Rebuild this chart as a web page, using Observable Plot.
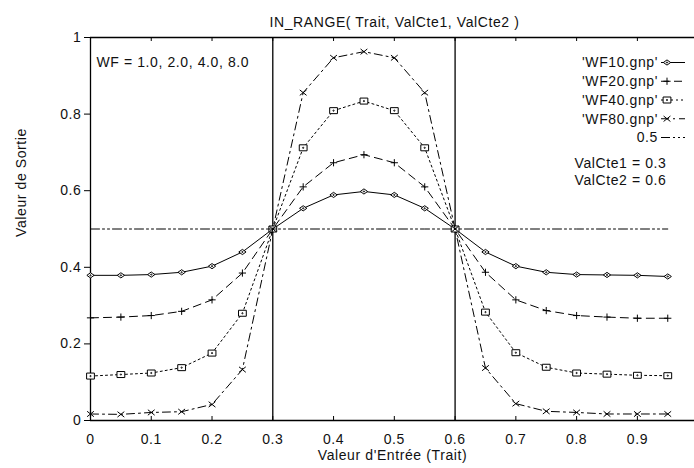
<!DOCTYPE html>
<html><head><meta charset="utf-8">
<script src="https://cdn.jsdelivr.net/npm/d3@7"></script>
<script src="https://cdn.jsdelivr.net/npm/@observablehq/plot@0.6"></script>
<style>
body{margin:0;background:#fff;}
</style></head><body><div id="chart"></div>
<script>
// ---- data ----
const xs   = [0,0.05,0.1,0.15,0.2,0.25,0.3,0.35,0.4,0.45,0.5,0.55,0.6,0.65,0.7,0.75,0.8,0.85,0.9,0.95];
const wf10 = [0.379,0.379,0.381,0.387,0.403,0.440,0.500,0.554,0.589,0.598,0.589,0.554,0.500,0.440,0.403,0.387,0.381,0.380,0.379,0.376];
const wf20 = [0.268,0.270,0.274,0.285,0.315,0.385,0.500,0.610,0.673,0.694,0.673,0.610,0.500,0.387,0.315,0.287,0.274,0.270,0.267,0.267];
const wf40 = [0.116,0.120,0.124,0.138,0.176,0.280,0.500,0.712,0.809,0.834,0.809,0.712,0.500,0.283,0.177,0.139,0.124,0.121,0.118,0.117];
const wf80 = [0.017,0.016,0.021,0.023,0.042,0.133,0.500,0.856,0.947,0.963,0.947,0.856,0.500,0.137,0.044,0.024,0.021,0.017,0.017,0.017];
const half = [0.5,0.5,0.5,0.5,0.5,0.5,0.5,0.5,0.5,0.5,0.5,0.5,0.5,0.5,0.5,0.5,0.5,0.5,0.5,0.5];
const seriesNames = ["'WF10.gnp'","'WF20.gnp'","'WF40.gnp'","'WF80.gnp'","0.5"];
const valCte = [0.3, 0.6];
const valCteLabels = ["ValCte1 = 0.3","ValCte2 = 0.6"];
const xTicks = [0,0.1,0.2,0.3,0.4,0.5,0.6,0.7,0.8,0.9];
const yTicks = [0,0.2,0.4,0.6,0.8,1];
const title = "IN_RANGE( Trait, ValCte1, ValCte2 )";
const xLabel = "Valeur d'Entrée (Trait)";
const yLabel = "Valeur de Sortie";
const wfLabel = "WF = 1.0, 2.0, 4.0, 8.0";

// ---- styles ----
const symDiamond = {draw(c, s){const r=Math.sqrt(s/Math.PI); c.moveTo(-r*1.4,0); c.lineTo(0,-r); c.lineTo(r*1.4,0); c.lineTo(0,r); c.closePath(); c.moveTo(0.6,0); c.arc(0,0,0.6,0,2*Math.PI);}};
const symRect = {draw(c, s){const r=Math.sqrt(s/Math.PI); c.rect(-r*1.3,-r,r*2.6,r*2); c.moveTo(0.6,0); c.arc(0,0,0.6,0,2*Math.PI);}};
const symPlus = {draw(c, s){const r=Math.sqrt(s/Math.PI); c.moveTo(-r,0); c.lineTo(r,0); c.moveTo(0,-r); c.lineTo(0,r);}};
const symTimes = {draw(c, s){const r=Math.sqrt(s/Math.PI); c.moveTo(-r,-r*0.8); c.lineTo(r,r*0.8); c.moveTo(-r,r*0.8); c.lineTo(r,-r*0.8);}};
const styles = [
  {dash: null, sym: symDiamond, r: 2.6, fill: "white"},
  {dash: "8,5", sym: symPlus, r: 3.6, fill: "none"},
  {dash: "2,3", sym: symRect, r: 3, fill: "white"},
  {dash: "8,4,2,4", sym: symTimes, r: 3.4, fill: "none"},
  {dash: "9,3,2,3,2,3", sym: null}
];
const seriesValues = [wf10, wf20, wf40, wf80, half];
const rows = seriesValues.map((vals, i) => xs.map((x, j) => ({x, y: vals[j], s: seriesNames[i]})));

function legendMark(index, scales, values, dims) {
  const g = d3.create("svg:g").attr("font-size", 14);
  const right = dims.width - dims.marginRight;
  const top = dims.marginTop;
  seriesNames.forEach((name, i) => {
    const y = top + 25.5 + i * 18.75;
    const st = styles[i];
    g.append("text").attr("x", right - 36).attr("y", y).attr("dy", "0.35em")
      .attr("text-anchor", "end").attr("fill", "#111").text(name);
    g.append("line").attr("x1", right - 33).attr("x2", right - 9).attr("y1", y).attr("y2", y)
      .attr("stroke", "black").attr("stroke-width", 1).attr("stroke-dasharray", st.dash);
    if (st.sym) {
      g.append("path").attr("transform", `translate(${right - 27},${y})`)
        .attr("d", d3.symbol(st.sym, st.r * st.r * Math.PI)())
        .attr("fill", st.fill).attr("stroke", "black").attr("stroke-width", 1);
    }
  });
  return g.node();
}

const marks = [
  Plot.ruleX(valCte, {stroke: "black", strokeWidth: 1.3}),
  Plot.ruleX([0], {stroke: "black", strokeWidth: 1.3}),
  Plot.ruleY([0, 1], {stroke: "black", strokeWidth: 1.3}),
  Plot.ruleX(xTicks, {insetTop: 379, stroke: "black"}),
  Plot.ruleX(xTicks, {insetBottom: 379, stroke: "black"}),
  Plot.axisX(xTicks, {tickSize: 0, tickPadding: 14, label: null, tickFormat: d => String(d), fontSize: 14, fill: "#111"}),
  Plot.axisY(yTicks, {tickSize: 6, tickPadding: 3, label: null, tickFormat: d => String(d), fontSize: 14, fill: "#111"})
];
rows.forEach((data, i) => {
  const st = styles[i];
  marks.push(Plot.line(data, {x: "x", y: "y", stroke: "black", strokeWidth: 1, strokeDasharray: st.dash}));
  if (st.sym) marks.push(Plot.dot(data, {x: "x", y: "y", symbol: () => st.sym, r: st.r, fill: st.fill, stroke: "black", strokeWidth: 1}));
});
marks.push(
  Plot.text([title], {frameAnchor: "top", dy: -20, dx: 2, fontSize: 14, fill: "#111"}),
  Plot.text([xLabel], {frameAnchor: "bottom", dy: 39, fontSize: 14, fill: "#111"}),
  Plot.text([yLabel], {frameAnchor: "left", dx: -69, dy: 8, rotate: -90, fontSize: 14, fill: "#111"}),
  Plot.text([wfLabel], {frameAnchor: "top-left", dx: 6, dy: 20, textAnchor: "start", fontSize: 14, fill: "#111"}),
  Plot.text([valCteLabels[0]], {frameAnchor: "top-right", dx: -120, dy: 121, textAnchor: "start", fontSize: 14, fill: "#111"}),
  Plot.text([valCteLabels[1]], {frameAnchor: "top-right", dx: -120, dy: 138, textAnchor: "start", fontSize: 14, fill: "#111"}),
  legendMark
);

const chart = Plot.plot({
  width: 694, height: 468,
  marginLeft: 90, marginRight: 0, marginTop: 37, marginBottom: 48,
  x: {domain: [0, 0.994]},
  y: {domain: [0, 1]},
  style: {fontFamily: "'Liberation Sans', Arial, sans-serif", fontSize: "14px", letterSpacing: "0.6px", background: "white", color: "black"},
  marks
});
document.getElementById("chart").appendChild(chart);
</script></body></html>
